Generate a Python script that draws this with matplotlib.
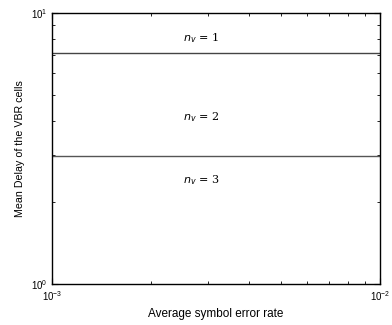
import numpy as np
import matplotlib
matplotlib.use('Agg')
import matplotlib.pyplot as plt
from matplotlib.ticker import NullFormatter

plt.rcParams['font.family'] = ['Liberation Sans', 'DejaVu Sans']

# data
ser = [1e-3, 1e-2]
delay_n1 = [7.1, 7.1]
delay_n2 = [2.97, 2.97]
labels = ['$n_v$ = 1', '$n_v$ = 2', '$n_v$ = 3']
label_y = [8.1, 4.13, 2.42]

fig = plt.figure(figsize=(3.92, 3.25), dpi=100)
ax = fig.add_axes([52/392, 1-284/325, 328/392, 271/325])

ax.plot(ser, delay_n1, color='#444444', lw=1.0)
ax.plot(ser, delay_n2, color='#555555', lw=1.0)

ax.set_xscale('log')
ax.set_yscale('log')
ax.set_xlim(1e-3, 1e-2)
ax.set_ylim(1, 10)
ax.xaxis.set_minor_formatter(NullFormatter())
ax.yaxis.set_minor_formatter(NullFormatter())

for txt, yv in zip(labels, label_y):
    ax.text(0.00285, yv, txt, fontsize=8, ha='center', va='center', family='DejaVu Serif')

ax.tick_params(which='both', direction='in', top=True, right=True, labelsize=7)
ax.tick_params(which='major', length=4)
ax.tick_params(which='minor', length=2)
for s in ax.spines.values():
    s.set_linewidth(1.0)

ax.set_xlabel('Average symbol error rate', fontsize=8.5)
ax.set_ylabel('Mean Delay of the VBR cells', fontsize=7.7)

fig.savefig('out.png', dpi=100)
